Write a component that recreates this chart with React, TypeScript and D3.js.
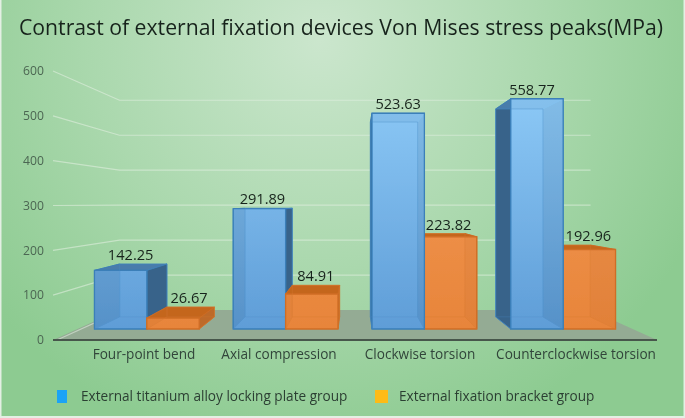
import React from 'react';
import * as d3 from 'd3';

const categories = ['Four-point bend', 'Axial compression', 'Clockwise torsion', 'Counterclockwise torsion'];
const titaniumPlate = [142.25, 291.89, 523.63, 558.77];
const fixationBracket = [26.67, 84.91, 223.82, 192.96];
const yTicks = [0, 100, 200, 300, 400, 500, 600];
const seriesNames = ['External titanium alloy locking plate group', 'External fixation bracket group'];

// hand tuned label offsets, the original chart does not centre these exactly
const plateLabelDx = [10, 3, 0, -5];
const bracketLabelDx = [16, 4, -2, -1];
const categoryLabelX = [144, 279, 420, 576];

const W = 685;
const H = 418;
const FONT = '"Open Sans", "Noto Sans", sans-serif';

// perspective: everything shrinks towards the vanishing point
const VP = { x: 355, y: 204 };
const PLANE_BAR_FRONT = 0.919;
const PLANE_BAR_BACK = 0.83;
const PLANE_WALL = 0.78;

const x = d3.scaleBand<string>().domain(categories).range([53, 657]).paddingInner(0.245).paddingOuter(0.1225);
const xInner = d3.scaleBand<number>().domain([0, 1]).range([0, x.bandwidth()]);
const y = d3.scaleLinear().domain([0, 600]).range([340, 71]);

const project = (px: number, v: number, s: number): [number, number] => [
  VP.x + (px - VP.x) * s,
  VP.y + (y(v) - VP.y) * s,
];

const poly = d3.line().curve(d3.curveLinearClosed);
const open = d3.line();

const palette = [
  { fill: 'url(#plateFront)', side: '#38638a', top: '#4a7cab', back: '#6aa5db', stroke: '#3a7fb9', inner: '#4b8cc6' },
  { fill: 'url(#bracketFront)', side: '#bd6a2a', top: '#c4661f', back: '#e08238', stroke: '#cf6d25', inner: '#d87a30' },
];

function Bar({ x0, x1, value, s }: { x0: number; x1: number; value: number; s: number }) {
  const c = palette[s];
  const fl = project(x0, 0, PLANE_BAR_FRONT);
  const fr = project(x1, 0, PLANE_BAR_FRONT);
  const tl = project(x0, value, PLANE_BAR_FRONT);
  const tr = project(x1, value, PLANE_BAR_FRONT);
  const bfl = project(x0, 0, PLANE_BAR_BACK);
  const bfr = project(x1, 0, PLANE_BAR_BACK);
  const btl = project(x0, value, PLANE_BAR_BACK);
  const btr = project(x1, value, PLANE_BAR_BACK);
  return (
    <g>
      <path d={poly([bfl, bfr, btr, btl])!} fill={c.back} />
      <path d={poly([fl, fr, bfr, bfl])!} fill={c.back} />
      <path d={poly([fl, bfl, btl, tl])!} fill={c.side} stroke={c.stroke} strokeWidth={0.8} />
      <path d={poly([fr, bfr, btr, tr])!} fill={c.side} stroke={c.stroke} strokeWidth={0.8} />
      <path d={poly([tl, tr, btr, btl])!} fill={c.top} stroke={c.stroke} strokeWidth={0.6} />
      <path d={poly([tl, tr, fr, fl])!} fill={c.fill} fillOpacity={0.82} stroke={c.stroke} strokeWidth={1.3} />
      <path d={open([bfl, btl, btr, bfr])!} fill="none" stroke={c.inner} strokeOpacity={0.35} />
      <path d={open([bfl, bfr])!} fill="none" stroke={c.inner} strokeOpacity={0.3} />
      <path d={open([fl, bfl])!} fill="none" stroke={c.inner} strokeOpacity={0.3} />
      <path d={open([fr, bfr])!} fill="none" stroke={c.inner} strokeOpacity={0.3} />
    </g>
  );
}

export default function App() {
  const axisLeft = 53;
  const axisRight = 657;
  const floor: [number, number][] = [
    project(axisLeft, 0, 1),
    project(axisRight, 0, 1),
    project(axisRight, 0, PLANE_WALL),
    project(axisLeft, 0, PLANE_WALL),
  ];

  return (
    <svg width={W} height={H} style={{ position: 'absolute', left: 0, top: 0 }} fontFamily={FONT}>
      <defs>
        <radialGradient id="bg" gradientUnits="userSpaceOnUse" cx={320} cy={40} r={420}>
          <stop offset="0" stopColor="#cbe6cd" />
          <stop offset="0.55" stopColor="#aad8ad" />
          <stop offset="1" stopColor="#8dcb91" />
        </radialGradient>
        <linearGradient id="plateFront" gradientUnits="userSpaceOnUse" x1={0} x2={0} y1={100} y2={330}>
          <stop offset="0" stopColor="#92cffb" />
          <stop offset="1" stopColor="#5c9bd6" />
        </linearGradient>
        <linearGradient id="bracketFront" gradientUnits="userSpaceOnUse" x1={0} x2={0} y1={230} y2={330}>
          <stop offset="0" stopColor="#f0914a" />
          <stop offset="1" stopColor="#e9853b" />
        </linearGradient>
        <filter id="soft" x="0" y="0" width="1" height="1">
          <feGaussianBlur stdDeviation="0.45" />
        </filter>
      </defs>

      <rect width={W} height={H} fill="#e4efe4" />
      <g filter="url(#soft)">
        <rect x={1.5} y={0} width={W - 3} height={H - 2} fill="url(#bg)" />

        <text x={341} y={35} textAnchor="middle" fontSize={21.2} fill="#18241c">
          Contrast of external fixation devices Von Mises stress peaks(MPa)
        </text>

        <path d={poly(floor)!} fill="#94ab94" />

        {yTicks.map(t => (
          <g key={t}>
            <text x={44} y={y(t)} dy="0.35em" textAnchor="end" fontSize={12.2} fill="#4c6652">{t}</text>
            {t > 0 ? (
              <path
                d={open([project(axisLeft, t, 1), project(axisLeft, t, PLANE_WALL), project(axisRight, t, PLANE_WALL)])!}
                fill="none"
                stroke="#e6f1e4"
                strokeOpacity={0.55}
                strokeWidth={1.2}
              />
            ) : (
              <path
                d={open([project(axisLeft + 4, t, 1), project(axisLeft + 4, t, PLANE_WALL)])!}
                fill="none"
                stroke="#e6f1e4"
                strokeOpacity={0.55}
                strokeWidth={1.2}
              />
            )}
          </g>
        ))}

        {categories.map((cat, i) => {
          const left = x(cat)!;
          const bars = [titaniumPlate[i], fixationBracket[i]].map((value, s) => ({
            value,
            s,
            x0: left + xInner(s)!,
            x1: left + xInner(s)! + xInner.bandwidth(),
          }));
          // painter's order: the bar nearest the vanishing point goes first
          const ordered = project(bars[0].x1, 0, PLANE_BAR_FRONT)[0] < VP.x ? bars : [bars[1], bars[0]];
          return <g key={cat}>{ordered.map(b => <Bar key={b.s} {...b} />)}</g>;
        })}

        <line x1={axisLeft} x2={axisRight} y1={y(0)} y2={y(0)} stroke="#46564c" strokeWidth={2} />

        {categories.map((cat, i) => (
          <text key={cat} x={categoryLabelX[i]} y={354} dy="0.35em" textAnchor="middle" fontSize={13.6} fill="#31453a">
            {cat}
          </text>
        ))}

        {categories.map((cat, i) =>
          [titaniumPlate[i], fixationBracket[i]].map((value, s) => {
            const cx = x(cat)! + xInner(s)! + xInner.bandwidth() / 2;
            const front = project(cx, value, PLANE_BAR_FRONT);
            const back = project(cx, value, PLANE_BAR_BACK);
            const dx = (s === 0 ? plateLabelDx : bracketLabelDx)[i];
            return (
              <text
                key={cat + s}
                x={front[0] + dx}
                y={Math.min(front[1], back[1]) - 9}
                dy="0.35em"
                textAnchor="middle"
                fontSize={14.6}
                fill="#18241c"
              >
                {d3.format('.2f')(value)}
              </text>
            );
          })
        )}

        <rect x={57} y={390} width={10} height={13} fill="#1ea3f5" />
        <text x={81} y={396.5} dy="0.35em" fontSize={13.6} fill="#2c3f33">{seriesNames[0]}</text>
        <rect x={375} y={390} width={13} height={13} fill="#fdbb12" />
        <text x={399} y={396.5} dy="0.35em" fontSize={13.6} fill="#2c3f33">{seriesNames[1]}</text>
      </g>
    </svg>
  );
}
